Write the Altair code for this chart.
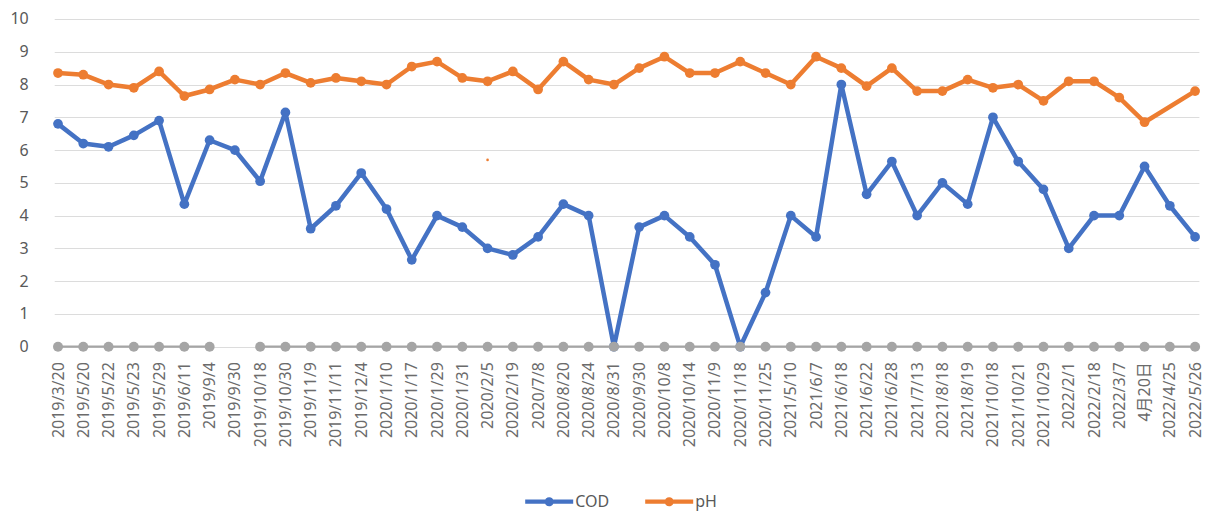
import altair as alt
import pandas as pd

categories = ["2019/3/20", "2019/5/20", "2019/5/22", "2019/5/23", "2019/5/29", "2019/6/11",
              "2019/9/4", "2019/9/30", "2019/10/18", "2019/10/30", "2019/11/9", "2019/11/11",
              "2019/12/4", "2020/1/10", "2020/1/17", "2020/1/29", "2020/1/31", "2020/2/5",
              "2020/2/19", "2020/7/8", "2020/8/20", "2020/8/24", "2020/8/31", "2020/9/30",
              "2020/10/8", "2020/10/14", "2020/11/9", "2020/11/18", "2020/11/25", "2021/5/10",
              "2021/6/7", "2021/6/18", "2021/6/22", "2021/6/28", "2021/7/13", "2021/8/18",
              "2021/8/19", "2021/10/18", "2021/10/21", "2021/10/29", "2022/2/1", "2022/2/18",
              "2022/3/7", "4月20日", "2022/4/25", "2022/5/26"]

cod = [6.8, 6.2, 6.1, 6.45, 6.9, 4.35, 6.3, 6.0, 5.05, 7.15, 3.6, 4.3, 5.3, 4.2, 2.65, 4.0,
       3.65, 3.0, 2.8, 3.35, 4.35, 4.0, 0, 3.65, 4.0, 3.35, 2.5, 0, 1.65, 4.0, 3.35, 8.0,
       4.65, 5.65, 4.0, 5.0, 4.35, 7.0, 5.65, 4.8, 3.0, 4.0, 4.0, 5.5, 4.3, 3.35]

ph = [8.35, 8.3, 8.0, 7.9, 8.4, 7.65, 7.85, 8.15, 8.0, 8.35, 8.05, 8.2, 8.1, 8.0, 8.55, 8.7,
      8.2, 8.1, 8.4, 7.85, 8.7, 8.15, 8.0, 8.5, 8.85, 8.35, 8.35, 8.7, 8.35, 8.0, 8.85, 8.5,
      7.95, 8.5, 7.8, 7.8, 8.15, 7.9, 8.0, 7.5, 8.1, 8.1, 7.6, 6.85, None, 7.8]

series3 = [0, 0, 0, 0, 0, 0, 0, None, 0, 0, 0, 0, 0, 0, 0, 0, 0, 0, 0, 0, 0, 0, 0, 0,
           0, 0, 0, 0, 0, 0, 0, 0, 0, 0, 0, 0, 0, 0, 0, 0, 0, 0, 0, 0, 0, 0]

stray_cat = ["2020/2/5"]
stray_val = [5.7]

series_names = ["COD", "pH", "系列3"]
series_colors = ["#4472C4", "#ED7D31", "#A5A5A5"]

rows = []
for name, vals in zip(series_names, [cod, ph, series3]):
    for c, v in zip(categories, vals):
        rows.append({"date": c, "series": name, "value": v})
df = pd.DataFrame(rows)
main = df[(df["series"] != "系列3") & df["value"].notna()]
gray = df[df["series"] == "系列3"]
stray = pd.DataFrame({"date": stray_cat, "value": stray_val})

FONT = "Noto Sans, Noto Sans CJK JP"

x = alt.X("date:N", sort=categories, title=None,
          scale=alt.Scale(type="point", padding=0.15),
          axis=alt.Axis(labelAngle=270, labelFontSize=16, labelColor="#6b6b6b",
                        labelPadding=15, ticks=False, domain=False, grid=False,
                        labelFont=FONT, labelOverlap=False, labelLimit=200))
y = alt.Y("value:Q", title=None,
          scale=alt.Scale(domain=[0, 10], nice=False, zero=True),
          axis=alt.Axis(values=[0, 1, 2, 3, 4, 5, 6, 7, 8, 9, 10], labelFontSize=16,
                        labelColor="#595959", labelPadding=26, ticks=False, domain=False,
                        grid=True, gridColor="#dcdcdc", gridWidth=1.2, labelFont=FONT))

color_scale = alt.Scale(domain=series_names, range=series_colors)

legend_path = ("M-1,-0.09 L1,-0.09 L1,0.09 L-1,0.09 Z "
               "M0.19,0 A0.19,0.19 0 1,1 -0.19,0 A0.19,0.19 0 1,1 0.19,0 Z")

legend = alt.Legend(values=["COD", "pH"], title=None, orient="none",
                    direction="horizontal", legendX=471, legendY=458.7,
                    symbolType=legend_path, symbolSize=2304, symbolStrokeWidth=0,
                    labelFontSize=16, labelColor="#595959",
                    labelFont=FONT, labelOffset=2, columnPadding=36, padding=0)

main_line = alt.Chart(main).mark_line(strokeWidth=4.5, strokeJoin="round").encode(
    x=x, y=y,
    color=alt.Color("series:N", scale=color_scale),
    detail="series:N",
)
main_pts = alt.Chart(main).mark_point(filled=True, size=95, opacity=1).encode(
    x=x, y=y,
    color=alt.Color("series:N", scale=color_scale, legend=legend),
)
gray_line = alt.Chart(gray).mark_line(strokeWidth=2.2,
                                      invalid="break-paths-show-domains").encode(
    x=x, y=y,
    color=alt.Color("series:N", scale=color_scale),
)
gray_pts = alt.Chart(gray[gray["value"].notna()]).mark_point(filled=True, size=100,
                                                             opacity=1).encode(
    x=x, y=y,
    color=alt.Color("series:N", scale=color_scale),
)
stray_pt = alt.Chart(stray).mark_circle(size=7, color="#ED7D31", opacity=1).encode(x=x, y=y)

chart = alt.layer(main_pts, main_line, gray_line, gray_pts, stray_pt).properties(
    width=1144.7, height=327.7,
    autosize=alt.AutoSizeParams(type="none"),
    padding={"left": 46.2, "top": 11, "right": 7.1, "bottom": 170},
    background="white",
).configure_view(stroke=None)

chart.save("out.html", embed_options={"renderer": "svg", "actions": False})
